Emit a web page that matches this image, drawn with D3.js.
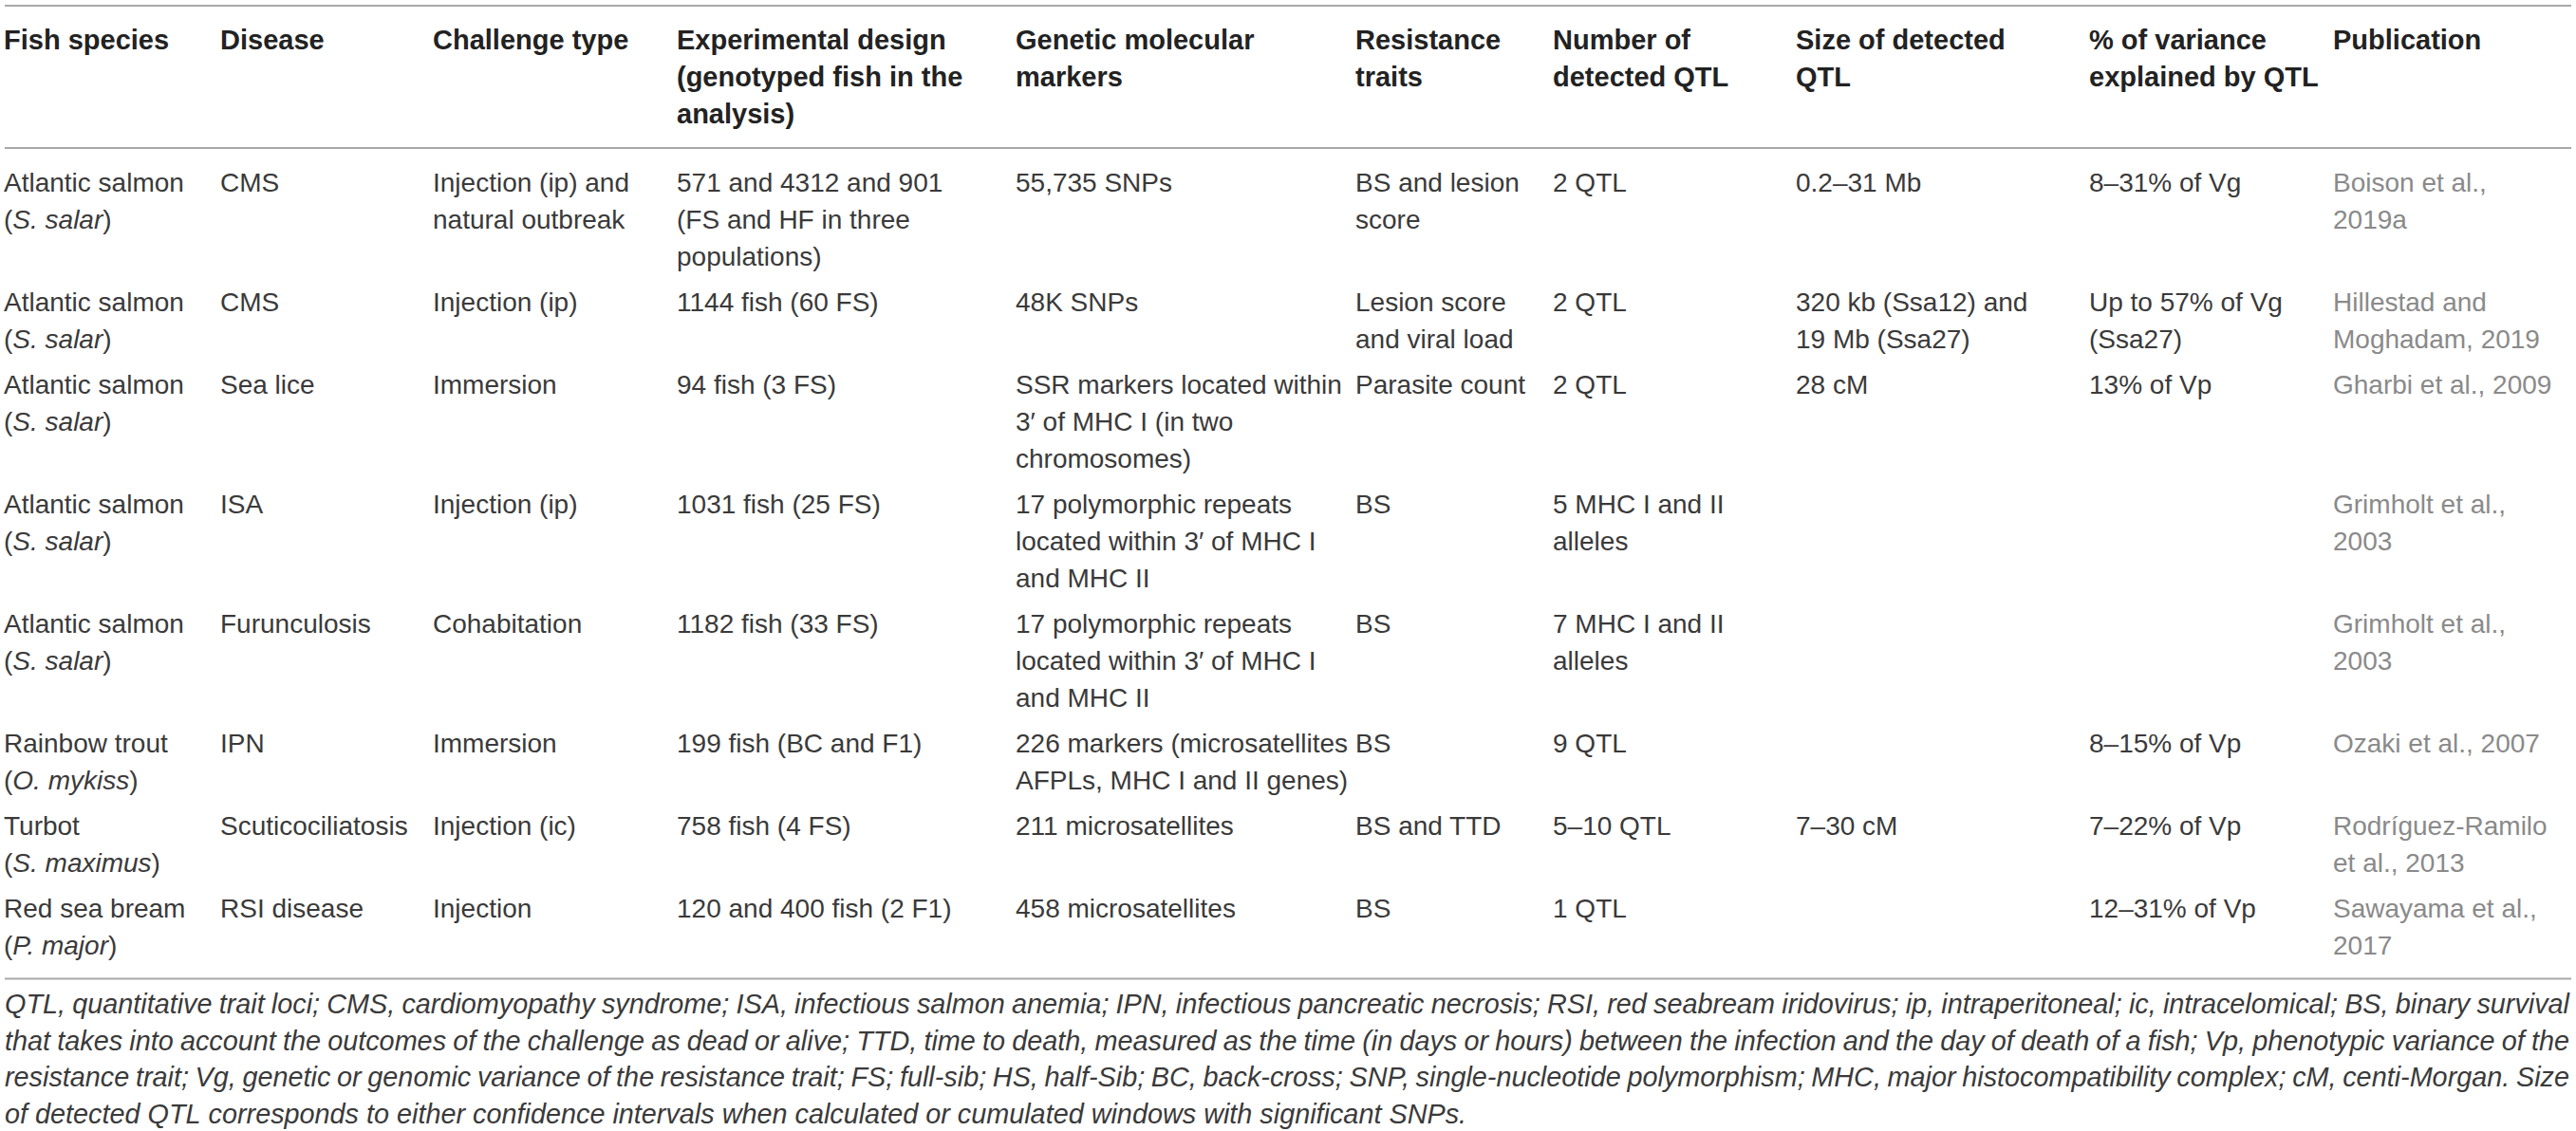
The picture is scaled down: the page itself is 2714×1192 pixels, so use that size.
<!DOCTYPE html>
<html>
<head>
<meta charset="utf-8">
<script src="https://cdn.jsdelivr.net/npm/d3@7"></script>
<style>
  body { margin: 0; background: #fff; }
  text { font-family: "Liberation Sans", Arial, sans-serif; }
</style>
</head>
<body>
<div id="chart"></div>
<script>
// column headings ("\n" = line break as printed)
const headers = [
  "Fish species",
  "Disease",
  "Challenge type",
  "Experimental design\n(genotyped fish in the\nanalysis)",
  "Genetic molecular\nmarkers",
  "Resistance\ntraits",
  "Number of\ndetected QTL",
  "Size of detected\nQTL",
  "% of variance\nexplained by QTL",
  "Publication"
];

// one array per column, _x_ = italic
const species = [
  "Atlantic salmon\n(_S. salar_)",
  "Atlantic salmon\n(_S. salar_)",
  "Atlantic salmon\n(_S. salar_)",
  "Atlantic salmon\n(_S. salar_)",
  "Atlantic salmon\n(_S. salar_)",
  "Rainbow trout\n(_O. mykiss_)",
  "Turbot\n(_S. maximus_)",
  "Red sea bream\n(_P. major_)"
];
const disease = ["CMS", "CMS", "Sea lice", "ISA", "Furunculosis", "IPN", "Scuticociliatosis", "RSI disease"];
const challenge = [
  "Injection (ip) and\nnatural outbreak",
  "Injection (ip)",
  "Immersion",
  "Injection (ip)",
  "Cohabitation",
  "Immersion",
  "Injection (ic)",
  "Injection"
];
const design = [
  "571 and 4312 and 901\n(FS and HF in three\npopulations)",
  "1144 fish (60 FS)",
  "94 fish (3 FS)",
  "1031 fish (25 FS)",
  "1182 fish (33 FS)",
  "199 fish (BC and F1)",
  "758 fish (4 FS)",
  "120 and 400 fish (2 F1)"
];
const markers = [
  "55,735 SNPs",
  "48K SNPs",
  "SSR markers located within\n3\u2032 of MHC I (in two\nchromosomes)",
  "17 polymorphic repeats\nlocated within 3\u2032 of MHC I\nand MHC II",
  "17 polymorphic repeats\nlocated within 3\u2032 of MHC I\nand MHC II",
  "226 markers (microsatellites\nAFPLs, MHC I and II genes)",
  "211 microsatellites",
  "458 microsatellites"
];
const traits = ["BS and lesion\nscore", "Lesion score\nand viral load", "Parasite count", "BS", "BS", "BS", "BS and TTD", "BS"];
const qtlNumber = ["2 QTL", "2 QTL", "2 QTL", "5 MHC I and II\nalleles", "7 MHC I and II\nalleles", "9 QTL", "5\u201310 QTL", "1 QTL"];
const qtlSize = ["0.2\u201331 Mb", "320 kb (Ssa12) and\n19 Mb (Ssa27)", "28 cM", "", "", "", "7\u201330 cM", ""];
const variance = ["8\u201331% of Vg", "Up to 57% of Vg\n(Ssa27)", "13% of Vp", "", "", "8\u201315% of Vp", "7\u201322% of Vp", "12\u201331% of Vp"];
const publication = [
  "Boison et al.,\n2019a",
  "Hillestad and\nMoghadam, 2019",
  "Gharbi et al., 2009",
  "Grimholt et al.,\n2003",
  "Grimholt et al.,\n2003",
  "Ozaki et al., 2007",
  "Rodr\u00edguez-Ramilo\net al., 2013",
  "Sawayama et al.,\n2017"
];

const footnote = [
  "QTL, quantitative trait loci; CMS, cardiomyopathy syndrome; ISA, infectious salmon anemia; IPN, infectious pancreatic necrosis; RSI, red seabream iridovirus; ip, intraperitoneal; ic, intracelomical; BS, binary survival",
  "that takes into account the outcomes of the challenge as dead or alive; TTD, time to death, measured as the time (in days or hours) between the infection and the day of death of a fish; Vp, phenotypic variance of the",
  "resistance trait; Vg, genetic or genomic variance of the resistance trait; FS; full-sib; HS, half-Sib; BC, back-cross; SNP, single-nucleotide polymorphism; MHC, major histocompatibility complex; cM, centi-Morgan. Size",
  "of detected QTL corresponds to either confidence intervals when calculated or cumulated windows with significant SNPs."
];

const columns = [species, disease, challenge, design, markers, traits, qtlNumber, qtlSize, variance, publication];

const width = 2714, height = 1192;
const left = 5, right = 2709;
const lineH = 39, rowGap = 9;

const svg = d3.select("#chart").append("svg")
  .attr("width", width)
  .attr("height", height);

const x = d3.scaleOrdinal()
  .domain(d3.range(headers.length))
  .range([4, 232, 456, 713, 1070, 1428, 1636, 1892, 2201, 2458]);

const line = d3.scaleLinear().domain([0, 1]).range([0, lineH]);

// rows: number of lines in each, then cumulative baseline
const rows = d3.range(species.length).map(i => {
  const cells = columns.map(c => c[i] ? c[i].split("\n") : []);
  return { cells: cells, n: d3.max(cells, c => c.length) };
});
let acc = 201.5;
rows.forEach(r => { r.y = acc; acc += line(r.n) + rowGap; });

// rules
const rules = [6, 156, 1031.5];
svg.selectAll("line.rule")
  .data(rules)
  .enter()
  .append("line")
  .attr("class", "rule")
  .attr("x1", left).attr("x2", right)
  .attr("y1", d => d).attr("y2", d => d)
  .attr("stroke", "#a8a8a8")
  .attr("stroke-width", 2);

// header
svg.selectAll("text.head")
  .data(headers)
  .enter()
  .append("text")
  .attr("class", "head")
  .attr("font-size", "29px")
  .attr("font-weight", "bold")
  .attr("fill", "#222")
  .each(function(d, i) {
    d3.select(this).selectAll("tspan")
      .data(d.split("\n"))
      .enter()
      .append("tspan")
      .attr("x", x(i))
      .attr("y", (t, j) => 51.5 + line(j))
      .text(t => t);
  });

// body cells
function addRich(textSel, str) {
  str.split("_").forEach((part, k) => {
    if (!part) return;
    textSel.append("tspan")
      .attr("font-style", k % 2 ? "italic" : null)
      .text(part);
  });
}

const rowG = svg.selectAll("g.row")
  .data(rows)
  .enter()
  .append("g")
  .attr("class", "row");

rowG.each(function(r) {
  const g = d3.select(this);
  r.cells.forEach((lines, ci) => {
    lines.forEach((ln, j) => {
      const t = g.append("text")
        .attr("x", x(ci))
        .attr("y", r.y + line(j))
        .attr("font-size", "28px")
        .attr("fill", ci === 9 ? "#8a8a8a" : "#3a3a3a");
      addRich(t, ln);
    });
  });
});

// footnote, justified except the last line
const fy = d3.scaleLinear().domain([0, 1]).range([1068, 1106.5]);
footnote.forEach((ln, i) => {
  const words = ln.split(" ");
  const t = svg.append("text")
    .attr("class", "foot")
    .attr("y", fy(i))
    .attr("font-size", "28.8px")
    .attr("font-style", "italic")
    .attr("fill", "#3a3a3a");
  const spans = words.map(w => t.append("tspan").text(w));
  const widths = spans.map(s => s.node().getComputedTextLength());
  const space = 28.8 * 0.278;
  const total = d3.sum(widths);
  const gap = i < footnote.length - 1 ? (right - 2 - left - total) / (words.length - 1) : space;
  let cx = left;
  spans.forEach((s, k) => {
    s.attr("x", cx);
    cx += widths[k] + gap;
  });
});
</script>
</body>
</html>
